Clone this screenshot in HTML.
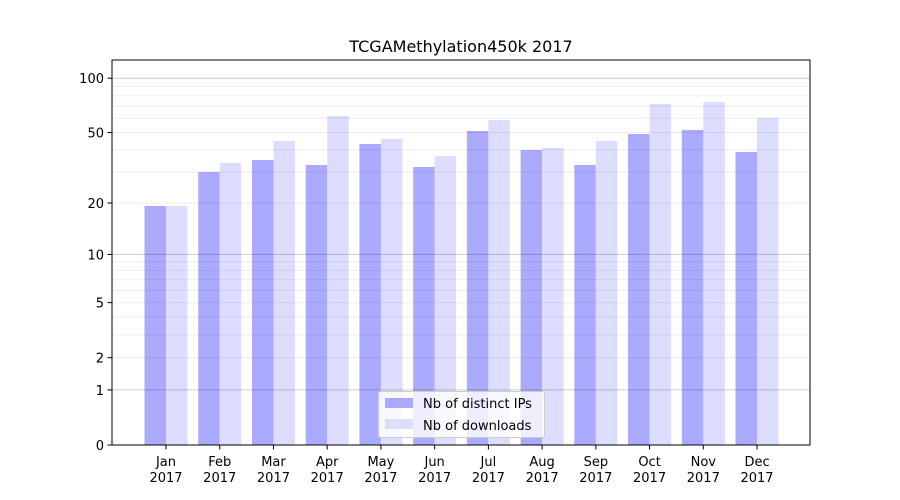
<!DOCTYPE html>
<html><head><meta charset="utf-8"><style>body{margin:0;background:#fff}svg{display:block}text{font-family:"DejaVu Sans","Liberation Sans",sans-serif;fill:#000}</style></head><body>
<svg width="900" height="500" viewBox="0 0 900 500">
<g id="bars"></g>
<g id="grid"></g>
<rect x="112" y="60" width="698" height="385" fill="none" stroke="#000" stroke-width="1"/>
<g id="axes" font-size="13"></g>
<text x="461" y="52" font-size="16" text-anchor="middle">TCGAMethylation450k 2017</text>
<g>
<rect x="378.5" y="391.5" width="166" height="46" rx="2" fill="#fff" fill-opacity="0.8" stroke="#ccc"/>
<rect x="385" y="398" width="28" height="10" fill="#aaaaff"/>
<rect x="385" y="419" width="28" height="10" fill="#ddddff"/>
<text x="423" y="408" font-size="13">Nb of distinct IPs</text>
<text x="423" y="430" font-size="13">Nb of downloads</text>
</g>
<script>
const ns="http://www.w3.org/2000/svg";
function el(p,t,a,txt){const e=document.createElementNS(ns,t);for(const k in a)e.setAttribute(k,a[k]);if(txt!==undefined)e.textContent=txt;document.getElementById(p).appendChild(e);}
const Y=v=>445-183*Math.log10(1+v);
const dark=[206,172,160,165,144,167,131,150,165,134,130,152];
const light=[206,163,141,116,139,156,120,148,141,104,102,118];
const m=["Jan","Feb","Mar","Apr","May","Jun","Jul","Aug","Sep","Oct","Nov","Dec"];
for(let i=0;i<12;i++){const c=166+i*53.73;
el("bars","rect",{x:c-21.5,y:dark[i],width:21.5,height:445-dark[i],fill:"#aaaaff"});
el("bars","rect",{x:c,y:light[i],width:21.5,height:445-light[i],fill:"#ddddff"});
el("axes","line",{x1:c,x2:c,y1:445,y2:449.5,stroke:"#000"});
el("axes","text",{x:c,y:466,"text-anchor":"middle"},m[i]);
el("axes","text",{x:c,y:482,"text-anchor":"middle"},"2017");}
[2,3,4,5,6,7,8,9,20,30,40,50,60,70,80,90].forEach(v=>{const y=Y(v);el("grid","line",{x1:112,x2:810,y1:y,y2:y,stroke:"#000","stroke-opacity":"0.07"});});
[1,10,100].forEach(v=>{const y=Y(v);el("grid","line",{x1:112,x2:810,y1:y,y2:y,stroke:"#000","stroke-opacity":"0.2"});});
[0,1,2,5,10,20,50,100].forEach(v=>{const y=Y(v);el("axes","line",{x1:107.5,x2:112,y1:y,y2:y,stroke:"#000"});el("axes","text",{x:104,y:y+5,"text-anchor":"end"},String(v));});
</script>
</svg>
</body></html>
